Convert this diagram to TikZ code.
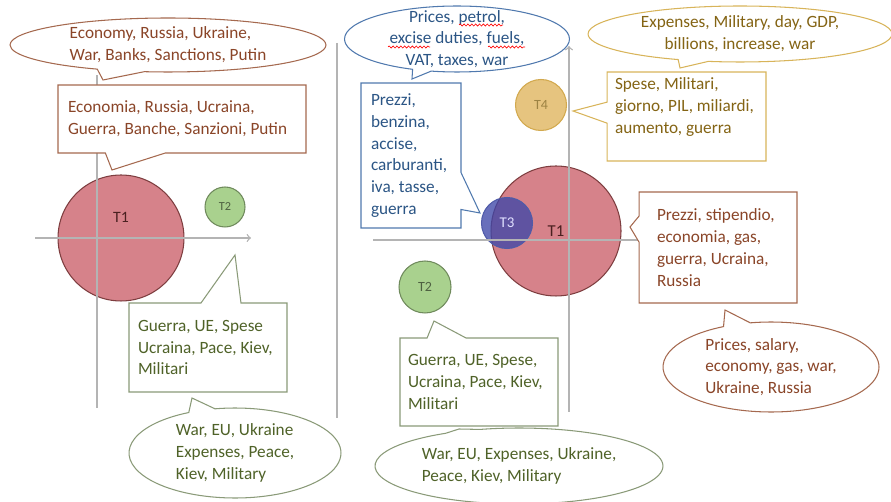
\documentclass[tikz,border=0pt]{standalone}
\usepackage{fontspec}
\setmainfont{Carlito}
\usepackage{xcolor}
\usepackage{tikz}
\usetikzlibrary{arrows,shapes.callouts,decorations.pathmorphing}

\definecolor{axisgray}{HTML}{B4B4B4}
\definecolor{redfill}{HTML}{D6828A}
\definecolor{redline}{HTML}{7E3E40}
\definecolor{redtext}{HTML}{4A2020}
\definecolor{greenfill}{HTML}{A9D18E}
\definecolor{greenline}{HTML}{6F8A5C}
\definecolor{bluefill}{HTML}{3E46A8}
\definecolor{blueline}{HTML}{4F5BA8}
\definecolor{goldfill}{HTML}{E6C47F}
\definecolor{goldline}{HTML}{D2A94E}
\definecolor{brownline}{HTML}{A5694F}
\definecolor{browntext}{HTML}{8A4528}
\definecolor{oliveline}{HTML}{8A9A78}
\definecolor{olivetext}{HTML}{4F6228}
\definecolor{navyline}{HTML}{5079AE}
\definecolor{navytext}{HTML}{2B5585}
\definecolor{ochreline}{HTML}{D8B45A}
\definecolor{ochretext}{HTML}{846414}

\begin{document}
\begin{tikzpicture}[x=0.02cm,y=-0.02cm,
  every node/.style={font=\fontsize{9.8}{12.4}\selectfont},
  axis/.style={draw=axisgray,line width=0.75pt},
  topic/.style={circle,draw,inner sep=0pt,line width=0.6pt},
  rcall/.style={rectangle callout,draw,fill=white,align=flush left,inner xsep=0.2cm,inner ysep=0pt,line width=0.6pt},
  ecall/.style={ellipse callout,draw,fill=white,inner xsep=0pt,inner ysep=-3pt,line width=0.6pt},
  typo/.style={draw=red,line width=0.35pt,decorate,decoration={snake,segment length=2.2pt,amplitude=0.6pt}},
  brown/.style={draw=brownline,text=browntext},
  olive/.style={draw=oliveline,text=olivetext},
  navy/.style={draw=navyline,text=navytext},
  ochre/.style={draw=ochreline,text=ochretext}]
  \useasboundingbox (0,0) rectangle (891,502);

  \node[topic,fill=redfill,draw=redline,minimum size=2.52cm,label={[text=redtext,yshift=0.42cm,font=\fontsize{9}{10}\selectfont]center:T1}] (t1a) at (121,238) {};
  \node[topic,fill=greenfill,draw=greenline,minimum size=0.8cm,text=greenline!70!black,font=\fontsize{7}{8}\selectfont] (t2a) at (225,207) {T2};

  \node[topic,fill=redfill,draw=redline,minimum size=2.6cm,text=redtext,font=\fontsize{9.5}{10}\selectfont] (t1b) at (556,231) {T1};
  \node[topic,fill=bluefill,fill opacity=0.78,text opacity=1,draw=blueline,minimum size=1.02cm,text=white!88!blue,font=\fontsize{8.5}{10}\selectfont] (t3) at (507,223) {T3};
  \node[topic,fill=goldfill,draw=goldline,minimum size=1.02cm,text=ochretext!80!white,font=\fontsize{8}{10}\selectfont] (t4) at (541,105) {T4};
  \node[topic,fill=greenfill,draw=greenline,minimum size=1.04cm,text=greenline!70!black,font=\fontsize{8}{10}\selectfont] (t2b) at (425,287) {T2};

  \coordinate (xa0) at (35,238);
  \coordinate (xa1) at (251,238);
  \coordinate (ya0) at (97,408);
  \coordinate (ya1) at (97,75);
  \coordinate (xb0) at (373,240);
  \coordinate (xb1) at (645,240);
  \coordinate (yb0) at (569,412);
  \coordinate (yb1) at (569,46);
  \coordinate (sep0) at (337,43);
  \coordinate (sep1) at (337,418);
  \draw[axis,->] (xa0) -- (xa1);
  \draw[axis] (ya0) -- (ya1);
  \draw[axis] (xb0) -- (xb1);
  \draw[axis,->] (yb0) -- (yb1);
  \draw[axis] (sep0) -- (sep1);

  \coordinate (pEconEn) at (103,80);
  \coordinate (pEconIt) at (112,170);
  \coordinate (pWarIt) at (235,255);
  \coordinate (pWarEn) at (192,398);
  \coordinate (pFuelEn) at (412,79);
  \coordinate (pFuelIt) at (480,213);
  \coordinate (pArmsEn) at (680,68);
  \coordinate (pArmsIt) at (573,111);
  \coordinate (pPriceIt) at (630,227);
  \coordinate (pPriceEn) at (725,310);
  \coordinate (pWarIt2) at (434,321);
  \coordinate (pWarEn2) at (459,429);

  \node[ecall,brown,align=left,minimum width=6.32cm,minimum height=1.08cm,callout pointer arc=18,callout absolute pointer={(pEconEn)}] (econEn) at (168,45)
    {Economy, Russia, Ukraine,\\War, Banks, Sanctions, Putin};
  \node[rcall,brown,text width=4.56cm,minimum height=1.36cm,callout pointer width=1.2cm,callout absolute pointer={(pEconIt)}] (econIt) at (182,119)
    {Economia, Russia, Ucraina,\\Guerra, Banche, Sanzioni, Putin};
  \node[rcall,olive,inner xsep=0.18cm,text width=2.8cm,minimum height=1.78cm,callout pointer width=0.8cm,callout absolute pointer={(pWarIt)}] (warIt) at (208,347.5)
    {Guerra, UE, Spese\\Ucraina, Pace, Kiev,\\Militari};
  \node[ecall,olive,align=left,minimum width=4.24cm,minimum height=1.8cm,callout absolute pointer={(pWarEn)}] (warEn) at (235,453)
    {War, EU, Ukraine\\Expenses, Peace,\\Kiev, Military};

  \node[ecall,navy,align=center,inner ysep=-4pt,minimum width=4.5cm,minimum height=1.32cm,callout pointer arc=10,callout absolute pointer={(pFuelEn)}] (fuelEn) at (457,39)
    {Prices, petrol,\\excise duties, fuels,\\VAT, taxes, war};
  \draw[typo] (459,25) -- (503,25);
  \draw[typo] (388,47) -- (430,47);
  \draw[typo] (488,47) -- (525,47);
  \node[rcall,navy,text width=1.6cm,minimum height=2.9cm,callout pointer width=0.74cm,callout absolute pointer={(pFuelIt)}] (fuelIt) at (411,155.5)
    {Prezzi,\\benzina,\\accise,\\carburanti,\\iva, tasse,\\guerra};
  \node[ecall,ochre,align=center,minimum width=6.08cm,minimum height=1.12cm,callout pointer arc=12,callout absolute pointer={(pArmsEn)}] (armsEn) at (740,34)
    {Expenses, Military, day, GDP,\\billions, increase, war};
  \node[rcall,ochre,inner xsep=0.16cm,text width=2.86cm,minimum height=1.78cm,callout pointer width=0.42cm,callout absolute pointer={(pArmsIt)}] (armsIt) at (686.5,116.5)
    {Spese, Militari,\\giorno, PIL, miliardi,\\aumento, guerra\\\mbox{}};
  \node[rcall,brown,inner xsep=0.36cm,text width=2.44cm,minimum height=2.22cm,callout pointer width=0.52cm,callout absolute pointer={(pPriceIt)}] (priceIt) at (718,247.5)
    {Prezzi, stipendio,\\economia, gas,\\guerra, Ucraina,\\Russia};
  \node[ecall,brown,align=left,minimum width=4.32cm,minimum height=1.8cm,callout absolute pointer={(pPriceEn)}] (priceEn) at (771,367)
    {Prices, salary,\\economy, gas, war,\\Ukraine, Russia};
  \node[rcall,olive,inner xsep=0.16cm,text width=2.84cm,minimum height=1.76cm,callout pointer width=0.78cm,callout absolute pointer={(pWarIt2)}] (warIt2) at (479,382)
    {Guerra, UE, Spese,\\Ucraina, Pace, Kiev,\\Militari};
  \node[ecall,olive,align=left,minimum width=5.76cm,minimum height=1.52cm,callout absolute pointer={(pWarEn2)}] (warEn2) at (519,466)
    {War, EU, Expenses, Ukraine,\\Peace, Kiev, Military};
\end{tikzpicture}
\end{document}
